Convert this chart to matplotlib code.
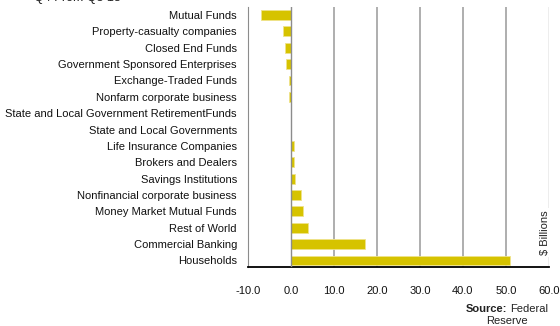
import matplotlib.pyplot as plt

plt.rcParams['font.family'] = ['Liberation Sans', 'DejaVu Sans']

# net purchases by sector, $ billions
sectors = [
    "Mutual Funds",
    "Property-casualty companies",
    "Closed End Funds",
    "Government Sponsored Enterprises",
    "Exchange-Traded Funds",
    "Nonfarm corporate business",
    "State and Local Government RetirementFunds",
    "State and Local Governments",
    "Life Insurance Companies",
    "Brokers and Dealers",
    "Savings Institutions",
    "Nonfinancial corporate business",
    "Money Market Mutual Funds",
    "Rest of World",
    "Commercial Banking",
    "Households",
]
values = [-7.0, -1.9, -1.4, -1.1, -0.4, -0.4, 0.0, -0.1,
          0.7, 0.7, 0.9, 2.3, 2.7, 3.9, 17.1, 51.0]
xticks = [-10, 0, 10, 20, 30, 40, 50, 60]

bar_color = "#D6C300"
fs = 8.0

fig = plt.figure(figsize=(5.6, 3.26), dpi=100)
ax = fig.add_axes([0.443, 0.181, 0.537, 0.798])

pos = list(range(len(sectors)))
ax.barh(pos, values, height=0.6, color=bar_color,
        edgecolor="#EFE38A", linewidth=0.6, zorder=3)

ax.set_ylim(len(sectors) - 0.6, -0.5)
ax.set_xlim(-10, 60)
ax.set_yticks(pos)
ax.set_yticklabels(sectors, fontsize=fs, color="#111111")
ax.set_xticks(xticks)
ax.set_xticklabels([f"{t:.1f}" for t in xticks], fontsize=fs, color="#111111")
ax.tick_params(axis="y", length=0, pad=8)
ax.tick_params(axis="x", length=0, pad=14)

# vertical gridlines, zero line and frame
for t in xticks[2:-1]:
    ax.axvline(t, color="#A8A8A8", linewidth=1.3, zorder=1)
ax.axvline(0, color="#8C8C8C", linewidth=1.0, zorder=4)
ax.axvline(60, color="#A8A8A8", linewidth=1.0, zorder=1)
for side in ["top", "right"]:
    ax.spines[side].set_visible(False)
ax.spines["left"].set_color("#8C8C8C")
ax.spines["left"].set_linewidth(0.8)
ax.spines["bottom"].set_color("black")
ax.spines["bottom"].set_linewidth(1.3)

# unit label sitting on the right-hand gridline
ax.text(59.2, 13.3, "$ Billions", rotation=90, ha="center", va="center",
        fontsize=fs, color="#222222", zorder=5,
        bbox=dict(facecolor="white", edgecolor="none", pad=1.5))

fig.text(0.832, 0.052, "Source:", ha="left", va="center",
         fontsize=fs, fontweight="bold", color="#222222")
fig.text(0.978, 0.052, "Federal", ha="right", va="center",
         fontsize=fs, color="#222222")
fig.text(0.906, 0.015, "Reserve", ha="center", va="center",
         fontsize=fs, color="#222222")

# title clipped at the top edge
fig.text(0.06, 1.005, "Q4 From Q3 13", ha="left", va="center",
         fontsize=9, color="#222222")

fig.savefig("out.png", dpi=100)
